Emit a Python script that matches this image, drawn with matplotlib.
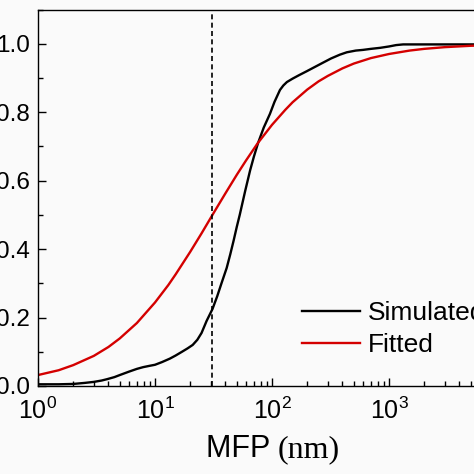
import matplotlib
matplotlib.use("Agg")
import matplotlib.pyplot as plt
import numpy as np
from matplotlib.ticker import LogLocator, MultipleLocator, NullFormatter, FixedLocator, FixedFormatter

plt.rcParams['font.family'] = ['Liberation Sans', 'DejaVu Sans']
plt.rcParams['mathtext.fontset'] = 'custom'
plt.rcParams['mathtext.rm'] = 'Liberation Sans'
plt.rcParams['mathtext.it'] = 'Liberation Sans:italic'

# Simulated cumulative distribution
sim_x = [1, 1.5, 2, 2.5, 3, 3.5, 3.9, 4.5, 5, 6, 7, 7.9, 9, 10, 11.5, 13.4, 15, 17, 19, 21, 23, 25, 27.6, 31, 34, 37, 41, 44, 47, 50, 53, 59, 65, 70, 76, 85, 96, 105, 117, 125, 134, 150, 170, 199, 235, 274, 320, 380, 436, 520, 600, 700, 840, 1000, 1150, 1320, 3000, 10000]
sim_y = [0.005, 0.005, 0.006, 0.009, 0.012, 0.016, 0.02, 0.026, 0.032, 0.042, 0.05, 0.055, 0.059, 0.062, 0.07, 0.08, 0.089, 0.1, 0.11, 0.12, 0.135, 0.155, 0.19, 0.225, 0.262, 0.3, 0.345, 0.385, 0.425, 0.465, 0.50, 0.57, 0.63, 0.67, 0.71, 0.755, 0.795, 0.83, 0.865, 0.878, 0.888, 0.898, 0.908, 0.92, 0.933, 0.945, 0.957, 0.968, 0.975, 0.98, 0.982, 0.985, 0.988, 0.992, 0.996, 0.998, 0.998, 0.998]

# Fitted curve
fit_x = [1, 1.5, 2, 3, 4, 5, 7, 10, 13, 15, 20, 25, 31, 40, 50, 60, 75, 100, 130, 150, 200, 250, 300, 400, 500, 700, 1000, 1500, 2000, 3000, 5000, 10000]
fit_y = [0.032, 0.046, 0.061, 0.088, 0.114, 0.139, 0.184, 0.244, 0.295, 0.326, 0.392, 0.446, 0.50, 0.563, 0.617, 0.659, 0.708, 0.763, 0.807, 0.829, 0.866, 0.890, 0.906, 0.928, 0.942, 0.958, 0.970, 0.980, 0.985, 0.990, 0.994, 0.997]

vline_x = 31

xtick_vals = [1, 10, 100, 1000, 10000]
xtick_labels = [r'$10^0$', r'$10^1$', r'$10^2$', r'$10^3$', '']
ytick_vals = [0.0, 0.2, 0.4, 0.6, 0.8, 1.0]
ytick_labels = ['0.0', '0.2', '0.4', '0.6', '0.8', '1.0']

fig = plt.figure(figsize=(4.74, 4.74), dpi=100)
fig.patch.set_facecolor('#fafafa')
ax = fig.add_axes([38/474, 88/474, 468/474, (386-9.5)/474])
ax.set_facecolor('#fafafa')

ax.plot(sim_x, sim_y, color='black', lw=1.7, label='Simulated')
ax.plot(fit_x, fit_y, color='#d40000', lw=1.7, label='Fitted')
ax.axvline(vline_x, color='black', lw=1.2, ls=(0, (3, 2)))

ax.set_xscale('log')
ax.set_xlim(1, 1e4)
ax.set_ylim(0, 1.1)
ax.yaxis.set_major_locator(FixedLocator(ytick_vals))
ax.yaxis.set_major_formatter(FixedFormatter(ytick_labels))
ax.yaxis.set_minor_locator(MultipleLocator(0.1))
ax.xaxis.set_major_locator(FixedLocator(xtick_vals))
ax.xaxis.set_major_formatter(FixedFormatter(xtick_labels))
ax.xaxis.set_minor_locator(LogLocator(base=10, subs=np.arange(2, 10), numticks=20))
ax.xaxis.set_minor_formatter(NullFormatter())

ax.tick_params(axis='both', which='both', direction='in', width=1.0)
ax.tick_params(axis='both', which='major', length=6)
ax.tick_params(axis='both', which='minor', length=3.5)
ax.tick_params(axis='y', which='major', labelsize=17.5, pad=6)
ax.tick_params(axis='x', which='major', labelsize=18, pad=8)

for s in ax.spines.values():
    s.set_linewidth(1.0)

fig.text(278/474, 1 - 457/474, 'MFP ', fontsize=22, ha='right', va='baseline', family=['Liberation Sans'])
fig.text(278/474, 1 - 457/474, '(nm)', fontsize=23, ha='left', va='baseline', family=['Liberation Serif'])

leg = ax.legend(loc='upper left', bbox_to_anchor=((302 - 38)/468, (386 - 301)/376.5),
                frameon=False, fontsize=19, handlelength=2.2, handletextpad=0.3,
                labelspacing=0.3, borderaxespad=0, borderpad=0)

fig.savefig('out.png', dpi=100, facecolor=fig.get_facecolor())
